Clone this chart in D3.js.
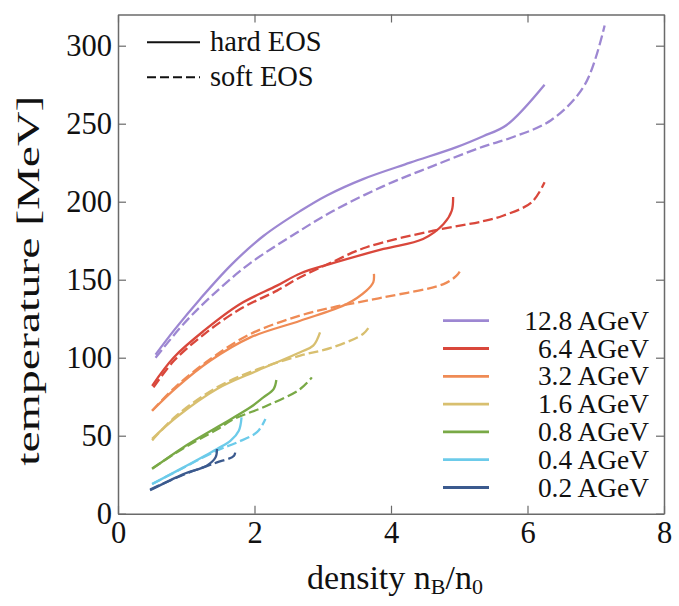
<!DOCTYPE html>
<html>
<head>
<meta charset="utf-8">
<script src="https://cdn.jsdelivr.net/npm/d3@7"></script>
<style>
  body { margin: 0; background: #fff; }
  text { font-family: "Liberation Serif", Tinos, "Times New Roman", Times, serif; fill: #111; }
</style>
</head>
<body>
<div id="container"></div>
<script>
/* CONSTANTS AND GLOBALS */
const width = 679,
  height = 606,
  margin = {top: 14.5, bottom: 92.3, left: 118, right: 15};

/* DATA: [density n_B/n_0, temperature MeV] */
const energies = ["12.8 AGeV", "6.4 AGeV", "3.2 AGeV", "1.6 AGeV", "0.8 AGeV", "0.4 AGeV", "0.2 AGeV"];
const colors = ["#9d87d2", "#d9473b", "#ef8b55", "#d8bf6f", "#79a946", "#6ccbea", "#3b5a8e"];

const hard12_8 = [[0.55,102],[0.82,117.5],[1.21,138],[1.67,160],[2.13,178],[2.67,194],[3.06,204],[3.59,214.5],[4.28,225],[4.96,235],[5.35,242],[5.69,249],[6.25,275]];
const soft12_8 = [[0.55,100],[0.96,121.6],[1.35,138.7],[1.92,160],[2.67,181.5],[3.15,194],[3.89,210],[4.62,223],[5.35,235.3],[5.76,241],[6.35,252.4],[6.84,275],[7.13,313]];

const hard6_4 = [[0.50,82],[0.82,100.3],[1.26,117.3],[1.79,134.4],[2.33,146.2],[2.67,154],[3.1,160],[3.89,169.7],[4.47,176.1],[4.77,185.7],[4.89,194.2],[4.91,203]];
const soft6_4 = [[0.52,81],[0.82,98],[1.26,115],[1.79,131.2],[2.33,143],[2.67,151.6],[3.1,160.5],[3.64,170.8],[4.62,181.4],[5.35,187.5],[5.64,191],[6.06,199.6],[6.25,212.4]];

const hard3_2 = [[0.50,66],[0.86,81],[1.35,98],[1.94,113],[2.67,123.7],[3.35,134.4],[3.64,143],[3.74,148.3],[3.75,153.7]];
const soft3_2 = [[0.50,66],[0.86,82],[1.35,99],[1.94,115.2],[2.67,127],[3.15,132.3],[3.89,138.7],[4.77,147.2],[4.96,152.6],[5.02,156.2]];

const hard1_6 = [[0.50,48],[0.86,62],[1.45,80],[2.04,91.7],[2.67,103.5],[2.86,107.7],[2.96,116.3]];
const soft1_6 = [[0.50,47],[0.86,63],[1.45,81],[2.04,92.5],[2.67,101.3],[3.15,106.7],[3.59,115.2],[3.69,120.5]];

const hard0_8 = [[0.50,28.7],[0.96,42.6],[1.45,55.4],[1.94,68.2],[2.13,74.6],[2.28,79.9],[2.32,85.7]];
const soft0_8 = [[0.50,29],[0.96,42],[1.45,54],[1.70,60.7],[2.18,69.2],[2.67,79.9],[2.84,87.4]];

const hard0_4 = [[0.50,19],[0.96,29.7],[1.45,41.5],[1.65,46.8],[1.77,53.2],[1.81,61.8]];
const soft0_4 = [[0.50,19],[0.96,29.5],[1.45,40.5],[1.75,45.8],[2.04,52.4],[2.16,60.7]];

const hard0_2 = [[0.47,15],[0.96,25.4],[1.30,30.8],[1.43,36.2],[1.45,41.5]];
const soft0_2 = [[0.47,15.5],[0.96,25],[1.30,30.5],[1.45,32.9],[1.70,37.2],[1.72,41.5]];

const hardCurves = [hard12_8, hard6_4, hard3_2, hard1_6, hard0_8, hard0_4, hard0_2];
const softCurves = [soft12_8, soft6_4, soft3_2, soft1_6, soft0_8, soft0_4, soft0_2];

const xTicks = [0, 2, 4, 6, 8];
const yTicks = [0, 50, 100, 150, 200, 250, 300];

// SCALES
const xScale = d3.scaleLinear()
  .domain([0, 8])
  .range([margin.left, width - margin.right]);

const yScale = d3.scaleLinear()
  .domain([0, 320])
  .range([height - margin.bottom, margin.top]);

// CREATE SVG ELEMENT
const svg = d3.select("#container").append("svg")
  .attr("width", width)
  .attr("height", height);

// AXES (ticks point inward, frame drawn by the domain lines)
const frameColor = "#6a6a6a";

const xAxis = d3.axisBottom(xScale).tickValues(xTicks).tickSizeInner(-8).tickSizeOuter(0).tickPadding(8);
const xTop = d3.axisTop(xScale).tickValues(xTicks).tickSizeInner(-8).tickSizeOuter(0).tickFormat("");
const yAxis = d3.axisLeft(yScale).tickValues(yTicks).tickSizeInner(-8).tickSizeOuter(0).tickPadding(6);
const yRight = d3.axisRight(yScale).tickValues(yTicks).tickSizeInner(-8).tickSizeOuter(0).tickFormat("");

const gx = svg.append("g").attr("transform", `translate(0,${yScale(0)})`).call(xAxis);
const gxt = svg.append("g").attr("transform", `translate(0,${margin.top})`).call(xTop);
const gy = svg.append("g").attr("transform", `translate(${margin.left},0)`).call(yAxis);
const gyr = svg.append("g").attr("transform", `translate(${width - margin.right},0)`).call(yRight);

[gx, gxt, gy, gyr].forEach(g => {
  g.attr("font-family", null).attr("font-size", null);
  g.selectAll("path.domain").attr("stroke", frameColor).attr("stroke-width", 1.5);
  g.selectAll(".tick line").attr("stroke", frameColor).attr("stroke-width", 1.2);
  g.selectAll(".tick text")
    .style("font-size", "30.5px")
    .attr("fill", "#111");
});

// AXIS TITLES
svg.append("text")
  .attr("x", (xScale(0) + xScale(8)) / 2 + 4)
  .attr("y", 589)
  .attr("text-anchor", "middle")
  .style("font-size", "34px")
  .html('density n<tspan font-size="22px" dy="5">B</tspan><tspan dy="-5">/n</tspan><tspan font-size="22px" dy="5">0</tspan>');

svg.append("text")
  .attr("transform", `translate(39,${yScale(150) + 1}) rotate(-90)`)
  .attr("text-anchor", "middle")
  .attr("textLength", 370)
  .attr("lengthAdjust", "spacingAndGlyphs")
  .style("font-size", "31px")
  .text("temperature [MeV]");

// LINE GENERATOR FUNCTION
const line = d3.line()
  .x(d => xScale(d[0]))
  .y(d => yScale(d[1]))
  .curve(d3.curveCatmullRom.alpha(0.5));

// DRAW LINES
const plot = svg.append("g");

plot.selectAll("path.soft")
  .data(softCurves)
  .join("path")
  .attr("class", "soft")
  .attr("d", d => line(d))
  .attr("fill", "none")
  .attr("stroke", (d, i) => colors[i])
  .attr("stroke-width", 2.3)
  .attr("stroke-dasharray", "10,4");

plot.selectAll("path.hard")
  .data(hardCurves)
  .join("path")
  .attr("class", "hard")
  .attr("d", d => line(d))
  .attr("fill", "none")
  .attr("stroke", (d, i) => colors[i])
  .attr("stroke-width", 2.3);

// LEGEND: line style
const styleLegend = svg.append("g");
[["hard EOS", null], ["soft EOS", "9,4"]].forEach(([label, dash], i) => {
  const y = 42.3 + i * 35;
  styleLegend.append("line")
    .attr("x1", 147).attr("x2", 200)
    .attr("y1", y).attr("y2", y)
    .attr("stroke", "#111")
    .attr("stroke-width", 2)
    .attr("stroke-dasharray", dash);
  styleLegend.append("text")
    .attr("x", 210)
    .attr("y", y + 8.8)
    .style("font-size", "28.5px")
    .text(label);
});

// LEGEND: energies
const energyLegend = svg.append("g");
energies.forEach((label, i) => {
  const y = 320.7 + i * 27.8;
  energyLegend.append("line")
    .attr("x1", 443).attr("x2", 489)
    .attr("y1", y).attr("y2", y)
    .attr("stroke", colors[i])
    .attr("stroke-width", 2.8);
  energyLegend.append("text")
    .attr("x", 649)
    .attr("y", y + 9)
    .attr("text-anchor", "end")
    .style("font-size", "27.4px")
    .text(label);
});
</script>
</body>
</html>
